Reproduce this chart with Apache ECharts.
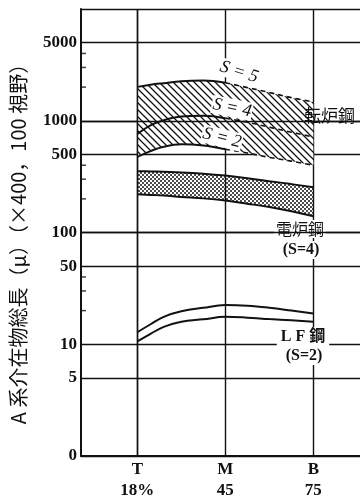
<!DOCTYPE html>
<html>
<head>
<meta charset="utf-8">
<script src="https://cdn.jsdelivr.net/npm/echarts@6/dist/echarts.min.js"></script>
<style>
html,body{margin:0;padding:0;background:#fff;}
#chart{width:360px;height:498px;}
</style>
</head>
<body>
<div id="chart"></div>
<script>
// ---- data ----
const stageNames = ['T', 'M', 'B'];
const stageSub = ['18%', '45', '75'];
const stageIdx = [0, 1, 2];
const samplePos = [0, 0.15, 0.3, 0.5, 0.75, 1, 1.25, 1.5, 1.75, 2];
const bofS5 = [2010, 2100, 2170, 2260, 2290, 2190, 1980, 1790, 1610, 1470];
const bofS4 = [760, 910, 1010, 1090, 1110, 1055, 970, 875, 790, 715];
const bofS2 = [475, 535, 585, 615, 600, 555, 515, 470, 435, 400];
const eafUpper = [354, 352, 349, 345, 336, 323, 306, 288, 271, 254];
const eafLower = [220, 217, 214, 208, 202, 193, 181, 169, 155, 140];
const lfUpper = [12.8, 15.1, 17.6, 19.7, 21.2, 22.4, 22.1, 21.2, 20.0, 18.8];
const lfLower = [10.6, 12.4, 14.3, 15.9, 16.7, 17.6, 17.3, 16.8, 16.4, 15.9];
const yLabelVals = [1, 5, 10, 50, 100, 500, 1000, 5000];
const yGridVals = [1, 5, 10, 50, 100, 500, 1000, 5000, 10000];
const yMinorVals = [4000, 3000, 2000, 400, 300, 200, 40, 30, 20];

// ---- helpers ----
const X_MIN = -0.64, X_MAX = 2.53;
const pts = (arr, from, to) => samplePos.map((x, i) => [x, arr[i]]).slice(from, to);
// value-first rows so that stacking happens on the y (value) dimension
const ptsYX = (arr) => samplePos.map((x, i) => [arr[i], x]);
const diff = (a, b) => a.map((v, i) => v - b[i]);

function hatchPattern() {
  const s = 7;
  const c = document.createElement('canvas'); c.width = s; c.height = s;
  const g = c.getContext('2d');
  g.fillStyle = '#fff'; g.fillRect(0, 0, s, s);
  g.strokeStyle = '#111'; g.lineWidth = 1.3;
  g.beginPath();
  g.moveTo(-1, -1); g.lineTo(s + 1, s + 1);
  g.moveTo(-1, s - 1); g.lineTo(1, s + 1);
  g.moveTo(s - 1, -1); g.lineTo(s + 1, 1);
  g.stroke();
  return c;
}
function dotPattern() {
  const s = 4;
  const c = document.createElement('canvas'); c.width = s; c.height = s;
  const g = c.getContext('2d');
  g.fillStyle = '#111';
  [[1, 1], [3, 3]].forEach(p => { g.beginPath(); g.arc(p[0], p[1], 1.0, 0, Math.PI * 2); g.fill(); });
  return c;
}

const SERIF = '"Liberation Serif", "DejaVu Serif", serif';
const CJK = '"Noto Sans CJK JP", sans-serif';
const black = '#111';

const chart = echarts.init(document.getElementById('chart'));

const solidLine = (name, arr, from, to, extra) => Object.assign({
  name, type: 'line', data: pts(arr, from, to), smooth: 0.4, symbol: 'none', silent: true,
  lineStyle: { color: black, width: 2 }
}, extra || {});
const stackLine = (name, stack, arr, extra) => Object.assign({
  name, type: 'line', stack, data: ptsYX(arr), encode: { x: 1, y: 0 },
  smooth: 0.4, symbol: 'none', silent: true
}, extra || {});

chart.setOption({
  animation: false,
  backgroundColor: '#fff',
  grid: { left: 81, right: 0, top: 9, bottom: 42, containLabel: false, outerBoundsMode: 'none' },
  xAxis: {
    type: 'value', min: X_MIN, max: X_MAX,
    axisLine: { show: true, onZero: false, lineStyle: { color: black, width: 2 } },
    axisTick: { show: false, customValues: stageIdx },
    axisLabel: {
      customValues: stageIdx, margin: 3,
      formatter: v => stageNames[Math.round(v)] + '\n' + stageSub[Math.round(v)],
      color: black, fontFamily: SERIF, fontWeight: 'bold', fontSize: 17, lineHeight: 21
    },
    splitLine: { show: true, lineStyle: { color: black, width: 1.4 } }
  },
  yAxis: {
    type: 'log', logBase: 10, min: 1, max: 10000,
    axisLine: { show: true, onZero: false, lineStyle: { color: black, width: 2 } },
    axisTick: { show: false, customValues: yGridVals },
    axisLabel: {
      customValues: yLabelVals, margin: 4,
      formatter: v => (v === 1 ? '0' : String(v)),
      color: black, fontFamily: SERIF, fontWeight: 'bold', fontSize: 17
    },
    splitLine: { show: true, lineStyle: { color: black, width: 1.4 } }
  },
  series: [
    // BOF hatched band (S=2 .. S=5)
    stackLine('bofBase', 'bof', bofS2, { lineStyle: { width: 0, opacity: 0 } }),
    stackLine('bofBand', 'bof', diff(bofS5, bofS2), {
      lineStyle: { width: 0, opacity: 0 },
      areaStyle: { color: { image: hatchPattern(), repeat: 'repeat' }, opacity: 1 }
    }),
    solidLine('S5a', bofS5, 0, 6),
    solidLine('S5b', bofS5, 5, 10, { lineStyle: { color: black, width: 1.6, type: [5, 4] } }),
    solidLine('S4a', bofS4, 0, 6),
    solidLine('S4b', bofS4, 5, 10, { lineStyle: { color: black, width: 1.6, type: [5, 4] } }),
    solidLine('S2a', bofS2, 0, 6),
    solidLine('S2b', bofS2, 5, 10, { lineStyle: { color: black, width: 1.6, type: [5, 4] } }),
    // EAF dotted band
    stackLine('eafBase', 'eaf', eafLower, { lineStyle: { color: black, width: 2 } }),
    stackLine('eafBand', 'eaf', diff(eafUpper, eafLower), {
      lineStyle: { color: black, width: 2 },
      areaStyle: { color: { image: dotPattern(), repeat: 'repeat' }, opacity: 1 }
    }),
    // LF lines
    solidLine('lfUpper', lfUpper, 0, 10, {
      markLine: {
        silent: true, symbol: 'none', label: { show: false },
        lineStyle: { color: black, width: 1.4, type: 'solid' },
        data: [{ yAxis: 1000 }, { yAxis: 100 }, { xAxis: 0 }]
      }
    }),
    solidLine('lfLower', lfLower, 0, 10),
    // minor ticks on the y axis
    { name: 'minorTicks', type: 'scatter', silent: true, clip: false, z: 4,
      data: yMinorVals.map(v => [X_MIN, v]),
      symbol: 'rect', symbolSize: [5, 1.5], symbolOffset: [2.5, 0],
      itemStyle: { color: black } }
  ],
  graphic: [
    { type: 'text', x: 18, y: 239, rotation: Math.PI / 2, z: 10,
      style: { text: 'A 系介在物総長（μ）（×400，100 視野）', font: '20px ' + CJK, fill: black, align: 'center', verticalAlign: 'middle' } },
    { type: 'text', x: 239, y: 72, rotation: -0.3, z: 10,
      style: { text: 'S = 5', font: 'italic 18px ' + SERIF, fill: black, align: 'center', verticalAlign: 'middle', backgroundColor: '#fff', padding: [0, 1] } },
    { type: 'text', x: 232, y: 108, rotation: -0.2, z: 10,
      style: { text: 'S = 4', font: 'italic 18px ' + SERIF, fill: black, align: 'center', verticalAlign: 'middle', backgroundColor: '#fff', padding: [0, 1] } },
    { type: 'text', x: 222, y: 138, rotation: -0.25, z: 10,
      style: { text: 'S = 2', font: 'italic 18px ' + SERIF, fill: black, align: 'center', verticalAlign: 'middle', backgroundColor: '#fff', padding: [0, 1] } },
    { type: 'text', x: 304, y: 116, z: 10,
      style: { text: '転炉鋼', font: '17px ' + CJK, fill: black, align: 'left', verticalAlign: 'middle' } },
    { type: 'text', x: 300, y: 229, z: 1,
      style: { text: '電炉鋼', font: '16px ' + CJK, fill: black, align: 'center', verticalAlign: 'middle', backgroundColor: '#fff', padding: [1, 2] } },
    { type: 'text', x: 301, y: 250, z: 1,
      style: { text: '(S=4)', font: 'bold 16px ' + SERIF, fill: black, align: 'center', verticalAlign: 'middle', backgroundColor: '#fff', padding: [1, 2] } },
    { type: 'text', x: 303, y: 337, z: 10,
      style: { text: 'L F 鋼', font: 'bold 16px ' + SERIF + ', ' + CJK, fill: black, align: 'center', verticalAlign: 'middle', backgroundColor: '#fff', padding: [2, 4] } },
    { type: 'text', x: 304, y: 356, z: 10,
      style: { text: '(S=2)', font: 'bold 16px ' + SERIF, fill: black, align: 'center', verticalAlign: 'middle', backgroundColor: '#fff', padding: [1, 4] } }
  ]
});
</script>
</body>
</html>
